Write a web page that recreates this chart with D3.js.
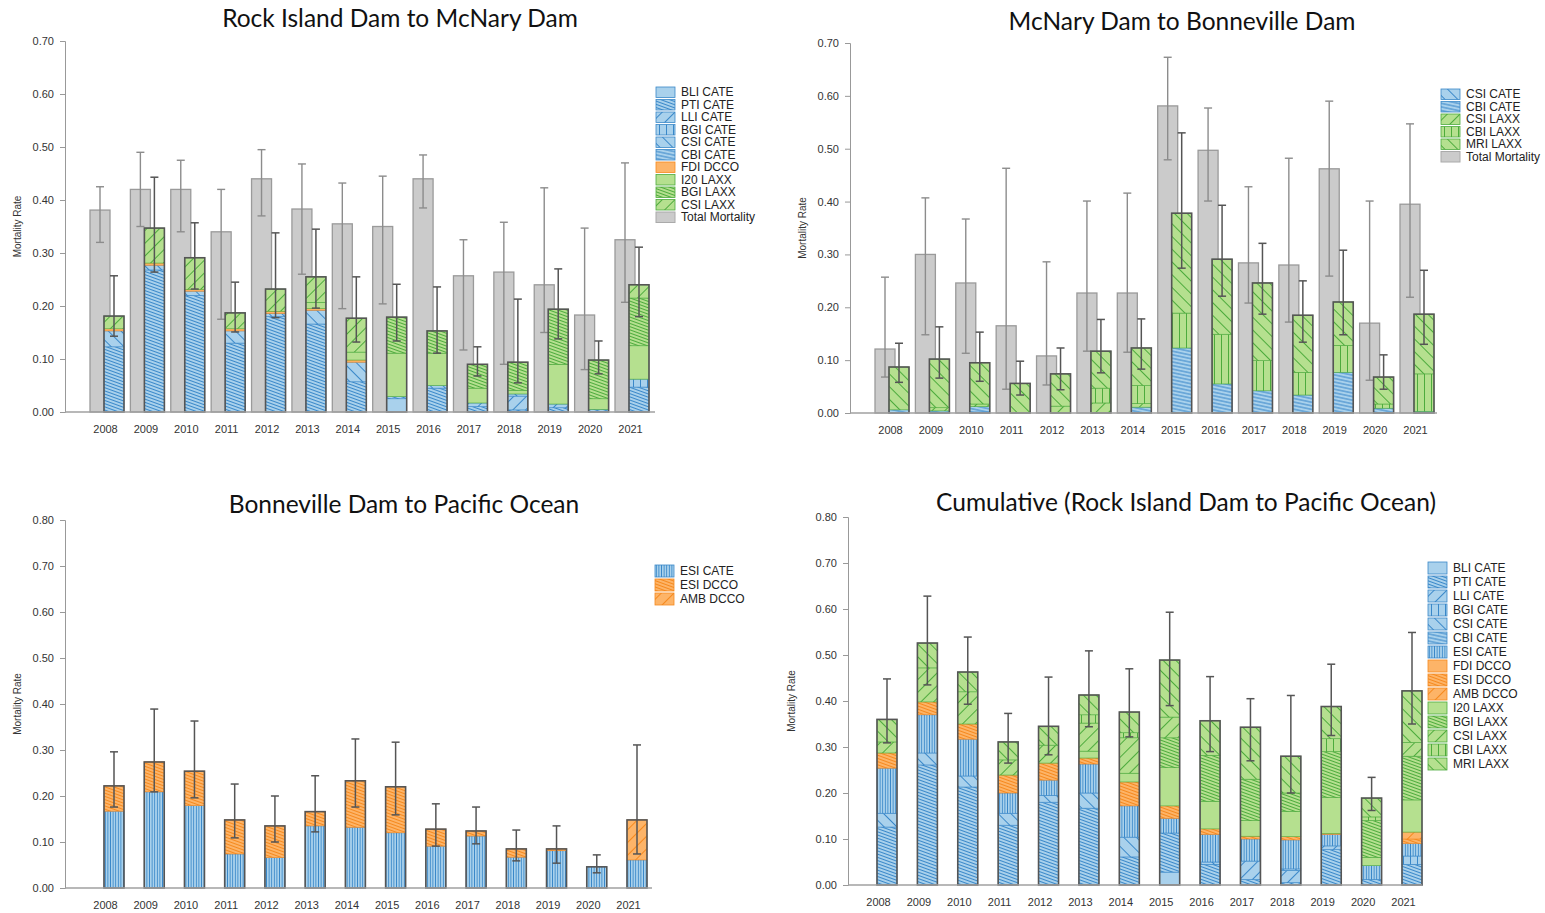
<!DOCTYPE html>
<html>
<head>
<meta charset="utf-8">
<script src="https://cdn.jsdelivr.net/npm/d3@7"></script>
<style>
  body { margin: 0; background: #fff; }
  text { font-family: "Liberation Sans", Arial, sans-serif; }
  .title { font-family: "Lato", "Open Sans", sans-serif; font-size: 24.5px; fill: #111; }
</style>
</head>
<body>
<script>
var years = [2008, 2009, 2010, 2011, 2012, 2013, 2014, 2015, 2016, 2017, 2018, 2019, 2020, 2021];

// Rock Island Dam to McNary Dam
var p1Names = ["BLI CATE", "PTI CATE", "LLI CATE", "BGI CATE", "CSI CATE", "CBI CATE",
               "FDI DCCO", "I20 LAXX", "BGI LAXX", "CSI LAXX"];
var p1Rows = [
  [0, 0, 0, 0, 0, 0, 0, .025, 0, 0, 0, 0, 0, 0],
  [.123, .268, .220, .130, .180, .166, .057, .004, .045, .010, .004, .008, .005, .047],
  [0, 0, 0, 0, 0, 0, 0, 0, 0, .007, .026, .007, 0, 0],
  [0, 0, 0, 0, 0, 0, 0, 0, 0, 0, 0, 0, 0, .015],
  [.030, .009, .008, .023, .006, .026, .037, 0, .005, 0, .004, 0, 0, 0],
  [0, 0, 0, 0, 0, 0, 0, 0, 0, 0, 0, 0, 0, 0],
  [.004, .004, .003, .004, .004, .003, .004, 0, 0, 0, 0, 0, 0, 0],
  [0, 0, 0, 0, 0, .012, .015, .082, .061, .028, .007, .075, .020, .063],
  [0, 0, 0, 0, 0, 0, 0, .068, .042, .045, .053, .104, .073, .090],
  [.024, .066, .060, .030, .042, .048, .064, 0, 0, 0, 0, 0, 0, .025]
];
var p1Total   = [.381, .42, .42, .34, .44, .383, .355, .35, .44, .257, .264, .24, .183, .325];
var p1TotalLo = [.32, .35, .34, .175, .37, .26, .195, .204, .385, .117, .09, .15, .08, .207];
var p1TotalHi = [.425, .49, .475, .42, .495, .468, .432, .445, .485, .325, .358, .423, .347, .47];
var p1StackLo = [.143, .264, .232, .151, .178, .196, .132, .134, .111, .068, .055, .138, .072, .18];
var p1StackHi = [.257, .443, .357, .245, .338, .345, .255, .241, .236, .123, .213, .27, .134, .311];

// McNary Dam to Bonneville Dam
var p2Names = ["CSI CATE", "CBI CATE", "CSI LAXX", "CBI LAXX", "MRI LAXX"];
var p2Rows = [
  [0, 0, .002, 0, 0, 0, 0, 0, 0, 0, 0, 0, 0, 0],
  [.006, .004, .010, 0, 0, 0, .011, .123, .055, .042, .034, .077, .009, .003],
  [0, .006, .005, 0, .013, .019, .007, 0, 0, 0, 0, 0, 0, 0],
  [0, 0, 0, 0, 0, .028, .034, .066, .094, .057, .043, .051, .008, .071],
  [.081, .092, .078, .056, .061, .070, .071, .189, .142, .147, .108, .082, .051, .113]
];
var p2Total   = [.121, .30, .246, .165, .108, .227, .227, .581, .497, .284, .28, .462, .17, .395];
var p2TotalLo = [.068, .148, .113, .045, .053, .117, .115, .479, .401, .208, .172, .259, .062, .219];
var p2TotalHi = [.257, .407, .367, .463, .286, .401, .416, .673, .577, .428, .482, .59, .401, .547];
var p2StackLo = [.058, .066, .06, .034, .044, .076, .083, .274, .221, .187, .134, .148, .045, .13];
var p2StackHi = [.132, .163, .153, .098, .123, .177, .178, .53, .393, .321, .25, .308, .11, .27];

// Bonneville Dam to Pacific Ocean
var p3Names = ["ESI CATE", "ESI DCCO", "AMB DCCO"];
var p3Rows = [
  [.167, .209, .179, .074, .066, .135, .132, .120, .091, .113, .067, .081, .046, .061],
  [.055, .065, .075, .074, .069, .031, .101, .100, .037, .011, .018, .004, 0, 0],
  [0, 0, 0, 0, 0, 0, 0, 0, 0, 0, 0, 0, 0, .087]
];
var p3StackLo = [.176, .209, .196, .109, .1, .122, .176, .159, .091, .096, .059, .054, .033, .074];
var p3StackHi = [.296, .389, .363, .226, .2, .244, .324, .317, .183, .176, .126, .135, .072, .311];

// Cumulative (Rock Island Dam to Pacific Ocean)
var p4Names = ["BLI CATE", "PTI CATE", "LLI CATE", "BGI CATE", "CSI CATE", "CBI CATE", "ESI CATE",
               "FDI DCCO", "ESI DCCO", "AMB DCCO", "I20 LAXX", "BGI LAXX", "CSI LAXX", "CBI LAXX", "MRI LAXX"];
var p4Rows = [
  [0, 0, 0, 0, 0, 0, 0, .028, 0, 0, 0, 0, 0, 0],
  [.126, .261, .213, .130, .180, .167, .061, .085, .045, .012, .005, .077, .012, .045],
  [0, 0, 0, 0, 0, 0, 0, 0, 0, .040, .027, .008, 0, 0],
  [0, 0, 0, 0, 0, 0, 0, 0, 0, 0, 0, 0, 0, .018],
  [.030, .026, .024, .026, .015, .033, .043, 0, .005, 0, .003, 0, 0, 0],
  [0, 0, 0, 0, 0, 0, 0, 0, 0, 0, 0, 0, 0, 0],
  [.098, .083, .080, .044, .033, .063, .068, .032, .060, .048, .063, .025, .030, .027],
  [0, 0, 0, 0, 0, 0, 0, 0, 0, 0, 0, 0, 0, 0],
  [.033, .028, .033, .039, .037, .013, .052, .027, .012, .006, .007, .002, 0, .010],
  [0, 0, 0, 0, 0, 0, 0, 0, 0, 0, 0, 0, 0, .015],
  [0, 0, 0, 0, 0, .015, .019, .083, .060, .034, .055, .078, .018, .070],
  [0, 0, 0, 0, 0, 0, 0, .065, .100, .090, .040, .100, .080, .095],
  [.024, .074, .070, .033, .039, .061, .077, .045, 0, 0, 0, 0, 0, .030],
  [0, 0, 0, 0, 0, .018, .011, 0, 0, 0, 0, .028, .008, 0],
  [.049, .054, .043, .039, .041, .043, .045, .124, .075, .113, .080, .070, .041, .112]
];
var p4StackLo = [.309, .435, .393, .265, .283, .344, .322, .39, .29, .27, .2, .325, .162, .35];
var p4StackHi = [.448, .628, .539, .373, .452, .509, .47, .593, .453, .405, .412, .48, .234, .549];

// fill style per predator/colony
var palette = {
  blue:   { fill: "#a9d1ec", line: "#3a88c9" },
  orange: { fill: "#fdb468", line: "#f5891e" },
  green:  { fill: "#b5e08f", line: "#4dab3d" }
};
var styleOf = {
  "BLI CATE": ["blue", "plain"],   "PTI CATE": ["blue", "dense"],   "LLI CATE": ["blue", "diagUp"],
  "BGI CATE": ["blue", "vert"],    "CSI CATE": ["blue", "diagDown"], "CBI CATE": ["blue", "dense2"],
  "ESI CATE": ["blue", "vdense"],  "FDI DCCO": ["orange", "plain"], "ESI DCCO": ["orange", "dense"],
  "AMB DCCO": ["orange", "diagUp"], "I20 LAXX": ["green", "plain"], "BGI LAXX": ["green", "dense"],
  "CSI LAXX": ["green", "diagUp"], "CBI LAXX": ["green", "vert"],  "MRI LAXX": ["green", "diagDown"]
};

var svg = d3.select("body").append("svg")
    .attr("width", 1545)
    .attr("height", 913);
var defs = svg.append("defs");

function patId(name) { return "pat-" + name.replace(/\s+/g, "-"); }

Object.keys(styleOf).forEach(function(name) {
  var col = palette[styleOf[name][0]], kind = styleOf[name][1];
  var s = 8, rot = 0, vertical = false, sw = 1;
  if (kind == "dense") { s = 3; rot = 20; }
  else if (kind == "dense2") { s = 3.5; rot = 12; }
  else if (kind == "diagUp") { s = 9; rot = -45; }
  else if (kind == "diagDown") { s = 9; rot = 45; }
  else if (kind == "vert") { s = 7; vertical = true; }
  else if (kind == "vdense") { s = 2.6; vertical = true; sw = 0.9; }
  var p = defs.append("pattern")
      .attr("id", patId(name))
      .attr("patternUnits", "userSpaceOnUse")
      .attr("width", s)
      .attr("height", s);
  if (rot) p.attr("patternTransform", "rotate(" + rot + ")");
  p.append("rect").attr("width", s).attr("height", s).attr("fill", col.fill);
  if (kind != "plain") {
    var l = p.append("line").attr("stroke", col.line).attr("stroke-width", sw);
    if (vertical) l.attr("x1", s / 2).attr("x2", s / 2).attr("y1", 0).attr("y2", s);
    else l.attr("x1", 0).attr("x2", s).attr("y1", s / 2).attr("y2", s / 2);
  }
});

function errorBar(g, x, lo, hi, color, w) {
  g.append("line").attr("x1", x).attr("x2", x).attr("y1", lo).attr("y2", hi)
    .attr("stroke", color).attr("stroke-width", w);
  [lo, hi].forEach(function(yy) {
    g.append("line").attr("x1", x - 4).attr("x2", x + 4).attr("y1", yy).attr("y2", yy)
      .attr("stroke", color).attr("stroke-width", w);
  });
}

function drawPanel(cfg, names, rows, total, totalLo, totalHi, stackLo, stackHi) {
  var g = svg.append("g");

  var x = d3.scalePoint().domain(years).range([cfg.first, cfg.last]);
  var y = d3.scaleLinear().domain([0, cfg.ymax]).range([cfg.bottom, cfg.top]);

  g.append("text").attr("class", "title")
    .attr("x", cfg.titleX).attr("y", cfg.titleY)
    .attr("text-anchor", "middle")
    .text(cfg.title);

  var yAxis = g.append("g")
      .attr("transform", "translate(" + cfg.left + ",0)")
      .call(d3.axisLeft(y).tickValues(d3.range(0, cfg.ymax + 0.001, 0.1))
        .tickFormat(d3.format(".2f")).tickSize(5).tickPadding(6));
  yAxis.select(".domain").attr("stroke", "#999");
  yAxis.selectAll(".tick line").attr("stroke", "#999");
  yAxis.selectAll("text").style("font-size", "11px").attr("fill", "#333");

  var xAxis = g.append("g")
      .attr("transform", "translate(0," + cfg.bottom + ")")
      .call(d3.axisBottom(x).tickSize(0).tickPadding(13));
  xAxis.select(".domain").remove();
  xAxis.selectAll("text").style("font-size", "11px").attr("fill", "#333");

  g.append("text")
    .attr("transform", "translate(" + cfg.labelX + "," + (cfg.top + cfg.bottom) / 2 + ") rotate(-90)")
    .attr("text-anchor", "middle")
    .style("font-size", "10px")
    .attr("fill", "#333")
    .text("Mortality Rate");

  var bw = 20;
  if (total) {
    years.forEach(function(yr, i) {
      g.append("rect")
        .attr("x", x(yr) - 15).attr("y", y(total[i]))
        .attr("width", bw).attr("height", y(0) - y(total[i]))
        .attr("fill", "#cbcbcb").attr("stroke", "#9a9a9a").attr("stroke-width", 1.3);
    });
    years.forEach(function(yr, i) {
      errorBar(g, x(yr) - 5, y(totalLo[i]), y(totalHi[i]), "#8c8c8c", 1.4);
    });
  }

  var table = years.map(function(yr, i) {
    var o = { year: yr };
    names.forEach(function(n, k) { o[n] = rows[k][i]; });
    return o;
  });
  var layers = d3.stack().keys(names)(table);

  layers.forEach(function(layer) {
    var col = palette[styleOf[layer.key][0]];
    g.append("g").selectAll("rect")
      .data(layer.filter(function(d) { return d[1] - d[0] > 0; }))
      .enter()
      .append("rect")
        .attr("x", function(d) { return x(d.data.year) - 1; })
        .attr("y", function(d) { return y(d[1]); })
        .attr("width", bw)
        .attr("height", function(d) { return y(d[0]) - y(d[1]); })
        .attr("fill", "url(#" + patId(layer.key) + ")")
        .attr("stroke", col.line)
        .attr("stroke-width", 0.6);
  });

  var top = layers[layers.length - 1];
  top.forEach(function(d) {
    g.append("rect")
      .attr("x", x(d.data.year) - 1).attr("y", y(d[1]))
      .attr("width", bw).attr("height", y(0) - y(d[1]))
      .attr("fill", "none").attr("stroke", "#555").attr("stroke-width", 1.6);
  });

  years.forEach(function(yr, i) {
    errorBar(g, x(yr) + 9, y(stackLo[i]), y(stackHi[i]), "#555", 1.5);
  });

  g.append("line")
    .attr("x1", cfg.left).attr("x2", cfg.right)
    .attr("y1", cfg.bottom).attr("y2", cfg.bottom)
    .attr("stroke", "#a0a0a0").attr("stroke-width", 1.5);

  // legend
  var entries = names.slice();
  if (total) entries.push("Total Mortality");
  var lg = g.append("g").attr("transform", "translate(" + cfg.legX + "," + cfg.legY + ")");
  entries.forEach(function(n, i) {
    var row = lg.append("g").attr("transform", "translate(0," + i * cfg.legStep + ")");
    if (n == "Total Mortality") {
      row.append("rect").attr("width", 19).attr("height", cfg.legStep - 2)
        .attr("fill", "#cbcbcb").attr("stroke", "#aaa");
    } else {
      row.append("rect").attr("width", 19).attr("height", cfg.legStep - 2)
        .attr("fill", "url(#" + patId(n) + ")")
        .attr("stroke", palette[styleOf[n][0]].line).attr("stroke-width", 0.8);
    }
    row.append("text").attr("x", 25).attr("y", (cfg.legStep - 2) / 2 + 4)
      .style("font-size", "12px").attr("fill", "#222").text(n);
  });
}

drawPanel({ title: "Rock Island Dam to McNary Dam", titleX: 400, titleY: 27,
            left: 65, right: 655, top: 41, bottom: 412, ymax: 0.7, first: 105, last: 630,
            labelX: 21, legX: 656, legY: 87, legStep: 12.5 },
          p1Names, p1Rows, p1Total, p1TotalLo, p1TotalHi, p1StackLo, p1StackHi);

drawPanel({ title: "McNary Dam to Bonneville Dam", titleX: 1182, titleY: 30,
            left: 850, right: 1437, top: 43, bottom: 413, ymax: 0.7, first: 890, last: 1415,
            labelX: 806, legX: 1441, legY: 89, legStep: 12.5 },
          p2Names, p2Rows, p2Total, p2TotalLo, p2TotalHi, p2StackLo, p2StackHi);

drawPanel({ title: "Bonneville Dam to Pacific Ocean", titleX: 404, titleY: 513,
            left: 65, right: 652, top: 520, bottom: 888, ymax: 0.8, first: 105, last: 628,
            labelX: 21, legX: 655, legY: 565, legStep: 14 },
          p3Names, p3Rows, null, null, null, p3StackLo, p3StackHi);

drawPanel({ title: "Cumulative (Rock Island Dam to Pacific Ocean)", titleX: 1186, titleY: 511,
            left: 848, right: 1422, top: 517, bottom: 885, ymax: 0.8, first: 878, last: 1403,
            labelX: 795, legX: 1428, legY: 562, legStep: 14 },
          p4Names, p4Rows, null, null, null, p4StackLo, p4StackHi);
</script>
</body>
</html>
